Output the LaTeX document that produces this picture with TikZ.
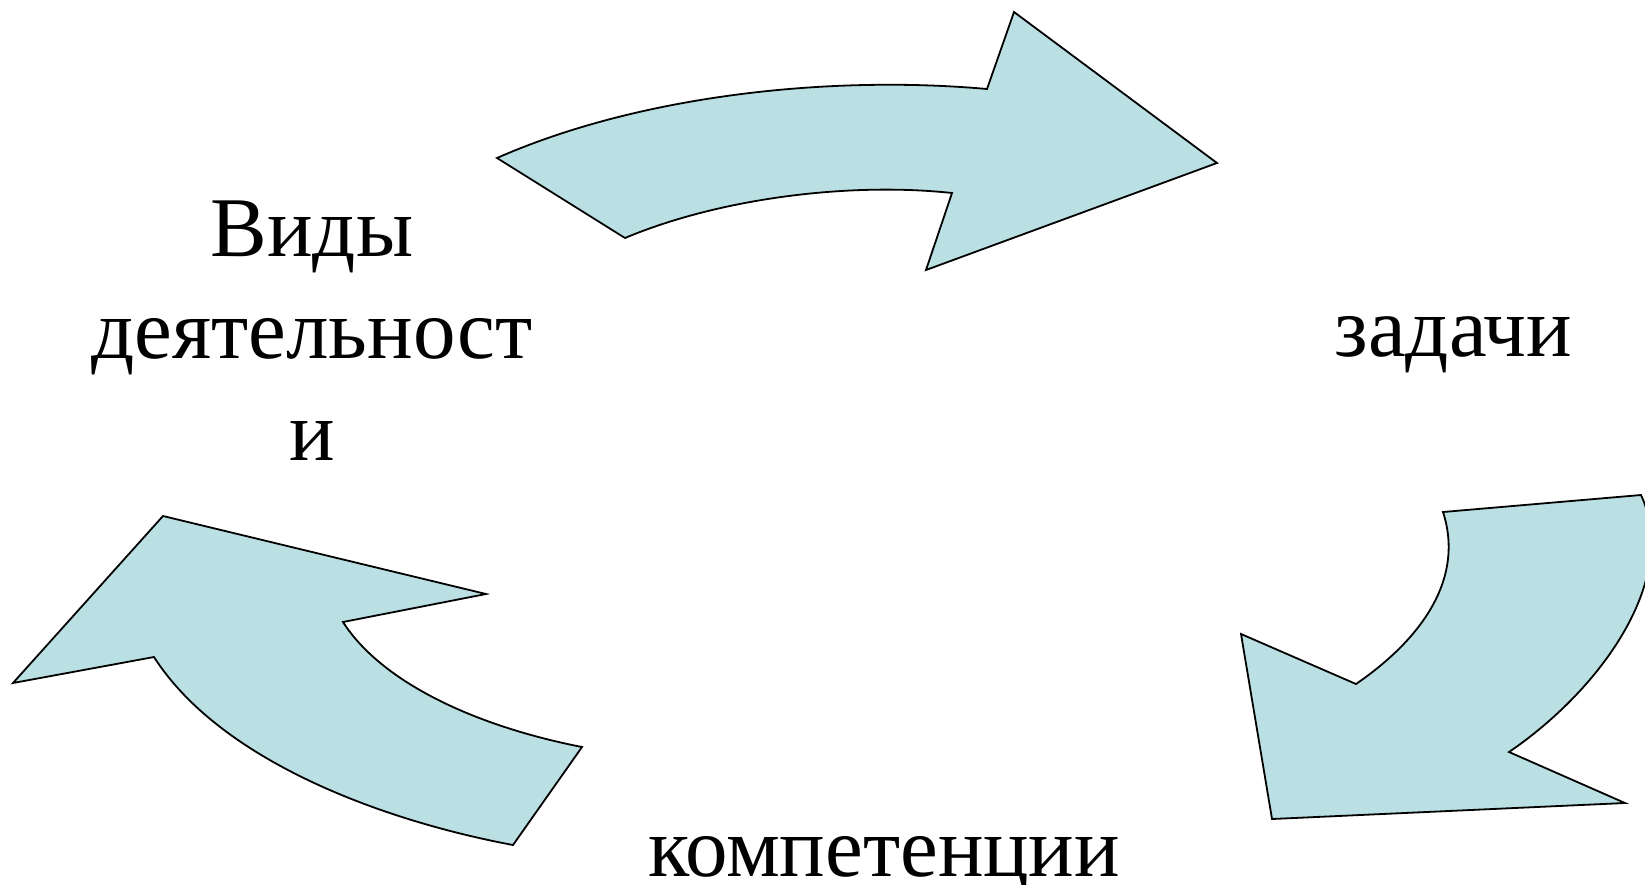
\documentclass[tikz,border=0pt]{standalone}
\usepackage{fontspec}
\setmainfont{Liberation Serif}
\definecolor{arrowfill}{RGB}{186,224,227}
\tikzset{
  bentarrow/.style={draw=black, fill=arrowfill, line width=1.8pt, line join=miter},
  label/.style={font=\fontsize{85}{102}\selectfont, inner sep=0pt, anchor=base, align=center}
}
\begin{document}
\begin{tikzpicture}[x=1pt,y=-1pt]
\useasboundingbox (0,0) rectangle (1645,884);
\clip (0,0) rectangle (1645,884);
% top arrow
\draw[bentarrow] (497,158) .. controls (640,95) and (830,75) .. (987,89)
  -- (1014,12) -- (1217,163) -- (926,270) -- (952,193)
  .. controls (850,182) and (720,198) .. (625,238) -- cycle;
% right arrow
\draw[bentarrow] (1443,512) -- (1641,495)
  .. controls (1680,580) and (1600,690) .. (1509,752)
  -- (1625,803) -- (1272,819) -- (1241,634) -- (1356,684)
  .. controls (1420,640) and (1465,580) .. (1443,512) -- cycle;
% left arrow
\draw[bentarrow] (343,622) -- (486,594) -- (163,516) -- (13,683) -- (154,657)
  .. controls (220,760) and (380,820) .. (513,845)
  -- (582,747)
  .. controls (470,725) and (380,680) .. (343,622) -- cycle;
% texts
\node[label] (vidy) at (312,460) {Виды\\деятельност\\и};
\node[label] (zadachi) at (1453,356) {задачи};
\node[label] (komp) at (884,876) {компетенции};
\end{tikzpicture}
\end{document}
